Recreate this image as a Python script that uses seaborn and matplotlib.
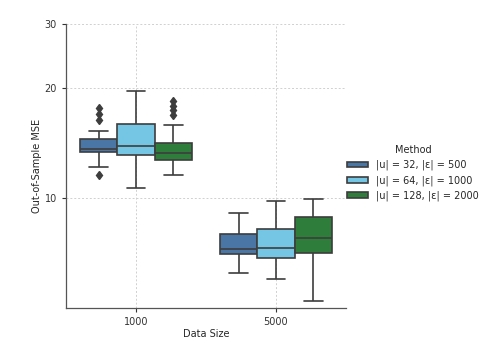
import pandas as pd
import matplotlib
matplotlib.use("Agg")
import matplotlib.pyplot as plt
import seaborn as sns
from matplotlib.ticker import NullLocator

# Data
sizes = ["1000", "5000"]
methods = ["|u| = 32, |ε| = 500", "|u| = 64, |ε| = 1000", "|u| = 128, |ε| = 2000"]
colors = ["#4a76a6", "#74c6e4", "#2e7d3a"]

mse_1000_m32 = [11.6, 12.2, 12.9, 13.2, 13.4, 13.45, 13.5, 13.57, 13.63,
                13.8, 14.0, 14.3, 14.5, 15.24, 16.4, 17.0, 17.7]
mse_1000_m64 = [10.64, 12.4, 13.15, 13.5, 13.89, 15.0, 15.98, 17.5, 19.63]
mse_1000_m128 = [11.6, 11.9, 12.2, 12.4, 12.6, 12.71, 12.85, 12.95, 13.1, 13.2,
                 13.34, 13.5, 13.7, 13.9, 14.05, 14.19, 15.88, 16.9, 17.4, 17.9, 18.5]
mse_5000_m32 = [6.23, 6.7, 7.04, 7.15, 7.24, 7.6, 7.99, 8.5, 9.11]
mse_5000_m64 = [6.00, 6.5, 6.84, 7.05, 7.29, 7.8, 8.23, 9.0, 9.85]
mse_5000_m128 = [5.24, 6.3, 7.06, 7.4, 7.77, 8.4, 8.90, 9.4, 9.94]

groups = {
    ("1000", methods[0]): mse_1000_m32,
    ("1000", methods[1]): mse_1000_m64,
    ("1000", methods[2]): mse_1000_m128,
    ("5000", methods[0]): mse_5000_m32,
    ("5000", methods[1]): mse_5000_m64,
    ("5000", methods[2]): mse_5000_m128,
}

rows = []
for (size, method), vals in groups.items():
    for v in vals:
        rows.append({"Data Size": size, "Method": method, "MSE": v})
df = pd.DataFrame(rows)

sns.set_style("ticks")
plt.rcParams["font.family"] = ["DejaVu Sans"]

fig = plt.figure(figsize=(4.88, 3.5), dpi=100)
ax = fig.add_axes([0.135, 0.12, 0.574, 0.811])

sns.boxplot(data=df, x="Data Size", y="MSE", hue="Method", order=sizes,
            hue_order=methods, palette=colors, saturation=1, linecolor="#3d3d3d",
            linewidth=1.2, gap=0, width=0.8,
            flierprops=dict(marker="d", markersize=4.5, markerfacecolor="#3d3d3d",
                            markeredgecolor="#3d3d3d"),
            ax=ax)

ax.set_yscale("log")
ax.set_ylim(5, 30)
ax.set_yticks([10, 20, 30])
ax.set_yticklabels(["10", "20", "30"])
ax.yaxis.set_minor_locator(NullLocator())
ax.grid(True, linestyle=(0, (2, 2)), color="#d0d0d0", linewidth=0.7)
ax.set_axisbelow(True)
ax.tick_params(labelsize=7, length=3, width=0.8, colors="#333333")
ax.set_xlabel("Data Size", fontsize=7, labelpad=1.5)
ax.set_ylabel("Out-of-Sample MSE", fontsize=7, labelpad=1.5)
for s in ["left", "bottom"]:
    ax.spines[s].set_color("#555555")
    ax.spines[s].set_linewidth(0.9)
sns.despine(ax=ax)

leg = ax.legend(title="Method", loc="center left", bbox_to_anchor=(1.0, 0.475),
                frameon=False, fontsize=7, title_fontsize=7, borderaxespad=0,
                borderpad=0.15, handlelength=2.1, handleheight=0.55,
                labelspacing=0.5)

fig.savefig("out.png", dpi=100)
